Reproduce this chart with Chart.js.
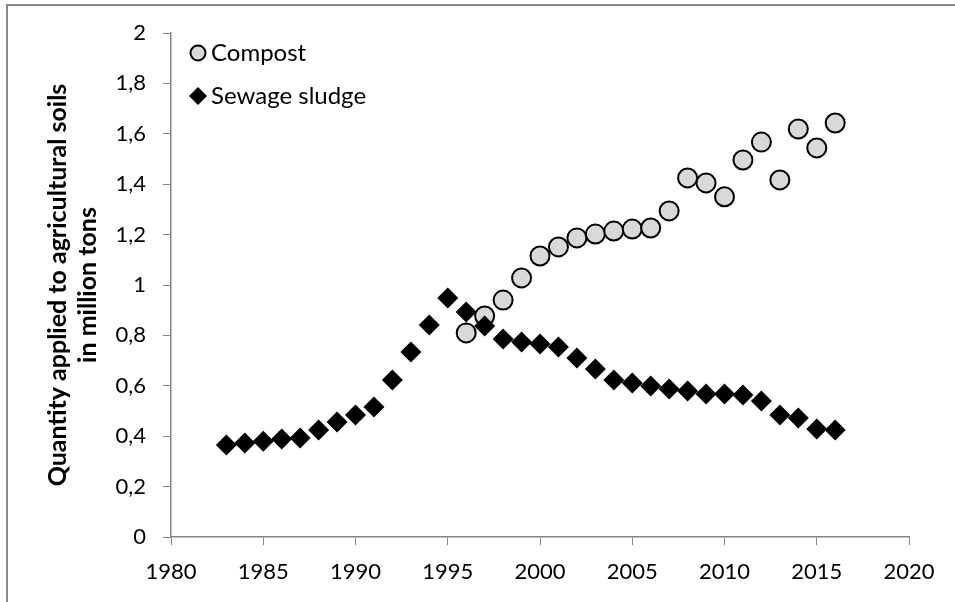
<!DOCTYPE html>
<html>
<head>
<meta charset="utf-8">
<script src="https://cdn.jsdelivr.net/npm/chart.js@4.4.1/dist/chart.umd.min.js"></script>
<style>
  html, body { margin: 0; padding: 0; background: #ffffff; }
  #wrap { position: relative; width: 955px; height: 602px; overflow: hidden; }
  #frame { position: absolute; left: 6px; top: 4px; width: 1000px; height: 700px;
           border-left: 2px solid #888888; border-top: 2px solid #888888; box-sizing: border-box; }
  canvas { position: absolute; left: 0; top: 0; }
</style>
</head>
<body>
<div id="wrap">
  <div id="frame"></div>
  <canvas id="c" width="955" height="602"></canvas>
</div>
<script>
// ---- data ----
const sludgeYears = [1983,1984,1985,1986,1987,1988,1989,1990,1991,1992,1993,1994,1995,1996,1997,1998,1999,2000,2001,2002,2003,2004,2005,2006,2007,2008,2009,2010,2011,2012,2013,2014,2015,2016];
const sludgeValues = [0.365,0.373,0.38,0.389,0.393,0.425,0.456,0.484,0.516,0.623,0.734,0.841,0.948,0.893,0.837,0.786,0.774,0.766,0.754,0.71,0.667,0.623,0.611,0.599,0.587,0.579,0.567,0.567,0.563,0.54,0.484,0.472,0.429,0.425];
const compostYears = [1996,1997,1998,1999,2000,2001,2002,2003,2004,2005,2006,2007,2008,2009,2010,2011,2012,2013,2014,2015,2016];
const compostValues = [0.81,0.877,0.94,1.028,1.115,1.151,1.187,1.202,1.214,1.222,1.226,1.294,1.425,1.405,1.35,1.496,1.567,1.417,1.619,1.544,1.643];
const seriesNames = ["Compost", "Sewage sludge"];
const yTitleLines = ["Quantity applied to agricultural soils", "in million tons"];
const xTickLabels = [1980,1985,1990,1995,2000,2005,2010,2015,2020];
const yTickLabels = ["0","0,2","0,4","0,6","0,8","1","1,2","1,4","1,6","1,8","2"];

const FONT = "Lato, 'Open Sans', sans-serif";
const AXIS = "#868686";

function toPts(xs, ys) { return xs.map((x, i) => ({ x: x, y: ys[i] })); }

const overlay = {
  id: 'overlay',
  afterDraw(chart) {
    const ctx = chart.ctx;
    const area = chart.chartArea;
    ctx.save();
    // y-axis title (centred on the plot area)
    const cy = (area.top + area.bottom) / 2;
    ctx.fillStyle = '#000';
    ctx.font = "bold 25px " + FONT;
    ctx.textAlign = 'center';
    ctx.textBaseline = 'middle';
    ctx.translate(58, cy);
    ctx.rotate(-Math.PI / 2);
    ctx.fillText(yTitleLines[0], 0, 0);
    ctx.fillText(yTitleLines[1], 0, 30);
    ctx.restore();

    // legend
    ctx.save();
    ctx.lineWidth = 2;
    ctx.strokeStyle = '#000';
    ctx.fillStyle = '#d9d9d9';
    ctx.beginPath(); ctx.arc(198, 53, 7.5, 0, Math.PI * 2); ctx.fill(); ctx.stroke();
    ctx.fillStyle = '#000';
    ctx.beginPath();
    ctx.moveTo(198, 96 - 9); ctx.lineTo(198 + 9, 96); ctx.lineTo(198, 96 + 9); ctx.lineTo(198 - 9, 96);
    ctx.closePath(); ctx.fill();
    ctx.font = "24px " + FONT;
    ctx.textAlign = 'left';
    ctx.textBaseline = 'middle';
    ctx.fillText(seriesNames[0], 211, 53);
    ctx.fillText(seriesNames[1], 211, 96);
    ctx.restore();
  }
};

new Chart(document.getElementById('c'), {
  type: 'scatter',
  data: {
    datasets: [
      {
        label: seriesNames[1],
        data: toPts(sludgeYears, sludgeValues),
        pointStyle: 'rectRot',
        pointRadius: 10.5,
        backgroundColor: '#000',
        borderColor: '#000',
        borderWidth: 0
      },
      {
        label: seriesNames[0],
        data: toPts(compostYears, compostValues),
        pointStyle: 'circle',
        pointRadius: 9.5,
        backgroundColor: '#d9d9d9',
        borderColor: '#000',
        borderWidth: 2
      }
    ]
  },
  options: {
    responsive: false,
    animation: false,
    events: [],
    layout: { padding: { left: 0, top: 33, right: 46, bottom: 0 } },
    plugins: { legend: { display: false }, tooltip: { enabled: false } },
    scales: {
      x: {
        type: 'linear', min: 1980, max: 2020,
        afterBuildTicks(s) { s.ticks = xTickLabels.map(v => ({ value: v })); },
        afterFit(s) { s.height = 65; },
        grid: { drawOnChartArea: false, color: AXIS, tickLength: 8, tickColor: AXIS },
        border: { color: AXIS, width: 1.5 },
        ticks: { font: { family: FONT, size: 22 }, color: '#000', padding: 14, maxRotation: 0,
                 callback: (v) => String(v) }
      },
      y: {
        type: 'linear', min: 0, max: 2,
        afterBuildTicks(s) { s.ticks = yTickLabels.map((t, i) => ({ value: i * 0.2 })); },
        afterFit(s) { s.width = 171; },
        grid: { drawOnChartArea: false, color: AXIS, tickLength: 8, tickColor: AXIS },
        border: { color: AXIS, width: 1.5 },
        ticks: { font: { family: FONT, size: 22 }, color: '#000', padding: 17,
                 callback: (v, i) => yTickLabels[i] }
      }
    }
  },
  plugins: [overlay]
});
</script>
</body>
</html>
